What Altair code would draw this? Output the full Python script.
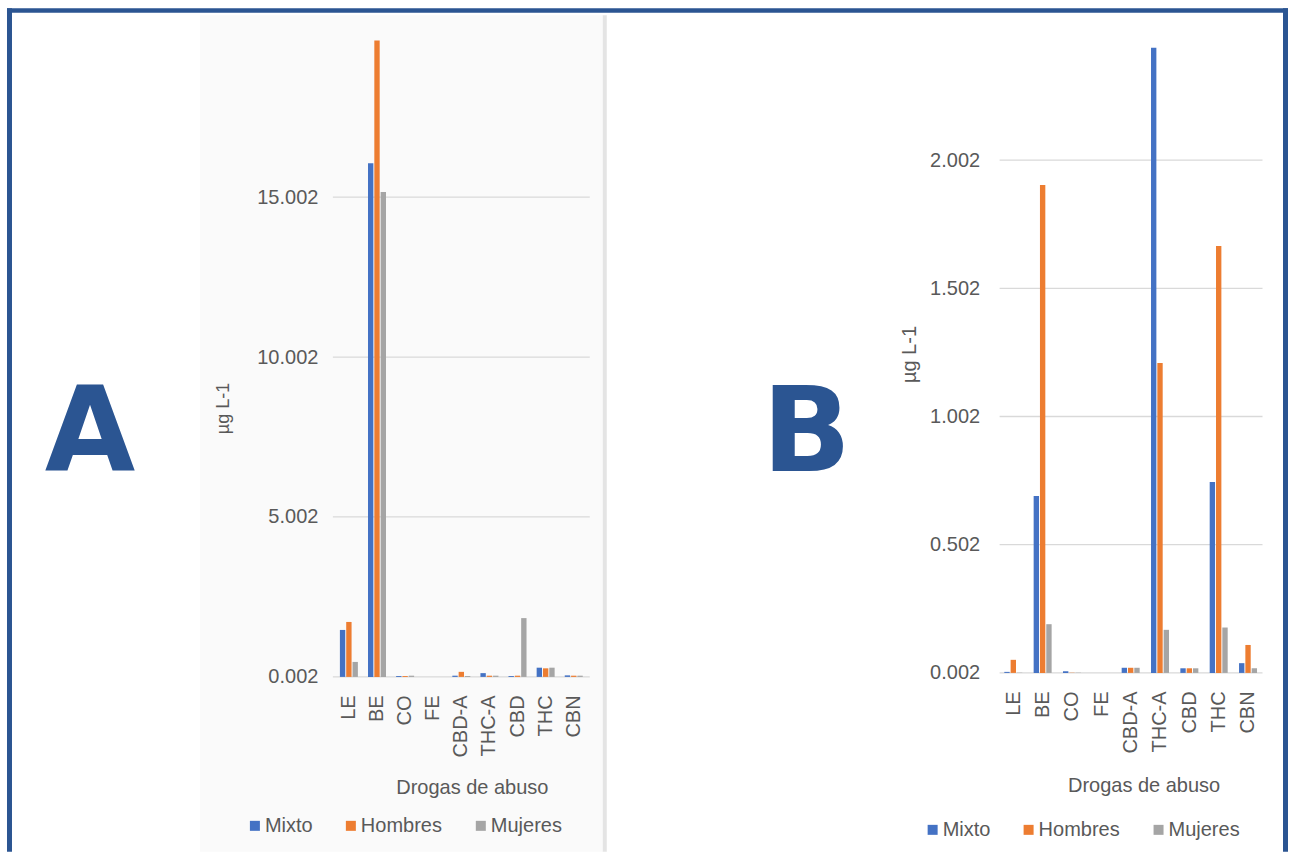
import altair as alt
import pandas as pd

# Drugs of abuse (x categories) and the three population groups
drugs = ["LE", "BE", "CO", "FE", "CBD-A", "THC-A", "CBD", "THC", "CBN"]
groups = ["Mixto", "Hombres", "Mujeres"]
group_colors = ["#4472c4", "#ed7d31", "#a5a5a5"]

# Panel A concentrations (µg L-1)
mixto_a = [1.47, 16.06, 0.03, 0.002, 0.04, 0.12, 0.03, 0.29, 0.05]
hombres_a = [1.72, 19.90, 0.03, 0.002, 0.16, 0.04, 0.04, 0.27, 0.04]
mujeres_a = [0.47, 15.16, 0.04, 0.002, 0.03, 0.04, 1.84, 0.29, 0.04]
ticks_a = [0.002, 5.002, 10.002, 15.002]

# Panel B concentrations (µg L-1)
mixto_b = [0.006, 0.692, 0.008, 0.002, 0.022, 2.44, 0.02, 0.747, 0.040]
hombres_b = [0.053, 1.905, 0.003, 0.002, 0.022, 1.211, 0.02, 1.667, 0.111]
mujeres_b = [0.003, 0.192, 0.003, 0.002, 0.022, 0.170, 0.02, 0.179, 0.020]
ticks_b = [0.002, 0.502, 1.002, 1.502, 2.002]

BLUE = "#2b5592"
TEXT = "#595959"
FONT = "Liberation Sans"


def long_table(m, h, w):
    rows = []
    for i, d in enumerate(drugs):
        for g, vals in zip(groups, (m, h, w)):
            rows.append({"droga": d, "grupo": g, "valor": vals[i]})
    return pd.DataFrame(rows)


def blank():
    return alt.Chart(alt.Data(values=[{}]))


def box(x1, x2, y1, y2, color):
    return blank().mark_rect(color=color).encode(
        x=alt.value(x1), x2=alt.value(x2), y=alt.value(y1), y2=alt.value(y2)
    )


def big_letter(letter, x, y):
    return blank().mark_text(
        text=letter, font="DejaVu Sans", fontSize=117, fontWeight="bold",
        color=BLUE, align="center", baseline="alphabetic",
    ).encode(x=alt.value(x), y=alt.value(y))


def panel(df, ticks, ymax, width, pad_outer, label_pad,
          ytitle_size, ytitle_xy, xtitle_xy, legend_xy):
    yscale = alt.Scale(domain=[0.002, ymax], nice=False, zero=False)
    yaxis = alt.Axis(
        values=ticks, format=".3f", grid=False, domain=False, ticks=False,
        labelFontSize=20, labelFont=FONT, labelColor=TEXT,
        labelPadding=label_pad,
        title="µg L-1", titleFont=FONT, titleFontSize=ytitle_size,
        titleFontWeight="normal", titleColor=TEXT, titleAngle=270,
        titleX=ytitle_xy[0], titleY=ytitle_xy[1],
        titleAlign="center", titleBaseline="middle", zindex=1,
    )

    # horizontal gridlines at the labelled values, drawn under the bars
    grid = alt.Chart(pd.DataFrame({"valor": ticks})).mark_rule(
        color="#d9d9d9", strokeWidth=1.3
    ).encode(
        y=alt.Y("valor:Q", scale=yscale, axis=yaxis),
        x=alt.value(0),
        x2=alt.value(width),
    )

    bars = alt.Chart(df).mark_bar().encode(
        x=alt.X(
            "droga:N", sort=drugs,
            scale=alt.Scale(paddingInner=0.36, paddingOuter=pad_outer),
            axis=alt.Axis(
                labelAngle=270, labelFontSize=20, labelFont=FONT, labelColor=TEXT,
                labelPadding=18, domain=False, ticks=False, grid=False,
                title="Drogas de abuso", titleFont=FONT, titleFontSize=20,
                titleFontWeight="normal", titleColor=TEXT,
                titleX=xtitle_xy[0], titleY=xtitle_xy[1],
                titleAlign="center", titleBaseline="middle", zindex=1,
            ),
        ),
        xOffset=alt.XOffset(
            "grupo:N", sort=groups,
            scale=alt.Scale(paddingInner=0.15, paddingOuter=0),
        ),
        y=alt.Y("valor:Q", scale=yscale, axis=yaxis),
        y2=alt.datum(0.002),
        color=alt.Color(
            "grupo:N", sort=groups,
            scale=alt.Scale(domain=groups, range=group_colors),
            legend=alt.Legend(
                orient="none", legendX=legend_xy[0], legendY=legend_xy[1],
                direction="horizontal", title=None, symbolType="square",
                symbolSize=100, symbolStrokeWidth=0, labelFontSize=20,
                labelFont=FONT, labelColor=TEXT, labelOffset=0,
                columnPadding=28, padding=0,
            ),
        ),
    )
    return grid, bars


# Panel A: plot area origin at (333, 37), 257 x 640
grid_a, bars_a = panel(
    long_table(mixto_a, hombres_a, mujeres_a), ticks_a, 20.002, 257, 0.25, 15,
    18, (-109, 371), (139, 111), (-88, 779),
)
decor_a = [
    box(-133, 270, -22, 815, "#fafafa"),   # light backdrop of the left figure
    box(270, 274, -22, 815, "#e4e4e4"),    # divider between the two figures
    box(-326, -321, -29, 815, BLUE),       # frame: left side
    box(-326, 955.5, -29, -24.5, BLUE),    # frame: top side
    box(950.5, 955.5, -29, 815, BLUE),     # frame: right side
    big_letter("A", -243, 434),
]
chart_a = alt.layer(*decor_a, grid_a, bars_a).properties(width=257, height=640)

# Panel B: plot area origin at (1000, 37), 263 x 636
grid_b, bars_b = panel(
    long_table(mixto_b, hombres_b, mujeres_b), ticks_b, 2.4815, 263, 0.16, 20,
    20, (-90, 317), (144, 113), (-77, 783),
)
chart_b = alt.layer(big_letter("B", -193, 434), grid_b, bars_b).properties(
    width=263, height=636
)

chart = (
    alt.hconcat(chart_a, chart_b, spacing=410, bounds="flush")
    .resolve_scale(color="independent", x="independent", y="independent")
    .properties(
        autosize=alt.AutoSizeParams(type="pad"),
        padding={"left": 7, "top": 8, "right": 1.5, "bottom": 0},
        background="white",
    )
    .configure_view(stroke=None)
)

chart.save("out.html", embed_options={"renderer": "svg", "actions": False})
